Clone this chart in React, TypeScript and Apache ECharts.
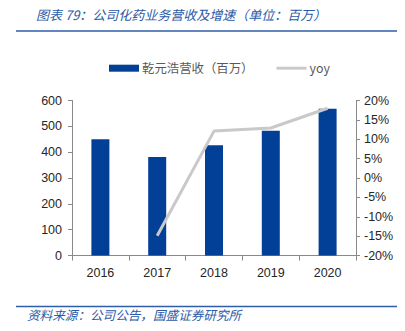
import React, { useEffect, useRef } from "react";
import * as echarts from "echarts";

const categories = ["2016", "2017", "2018", "2019", "2020"];
const revenue = [450, 381, 427, 483, 568];
const yoy: (number | null)[] = [null, -14.9, 12.1, 12.9, 18.0];
const titleText = "图表 79：公司化药业务营收及增速（单位：百万）";
const sourceText = "资料来源：公司公告，国盛证券研究所";

export default function App() {
  const ref = useRef<HTMLDivElement>(null);
  useEffect(() => {
    const chart = echarts.init(ref.current!, null, { renderer: "svg" });
    const axisColor = "#898989";
    const labelColor = "#262626";
    const font = "Liberation Sans";
    chart.setOption({
      animation: false,
      backgroundColor: "#fff",
      textStyle: { fontFamily: font },
      graphic: [
        {
          type: "text",
          left: 36,
          top: 8,
          style: {
            text: titleText,
            fill: "#2a5aa8",
            font: "italic 13px 'Noto Sans CJK SC'",
          },
        },
        {
          type: "line",
          shape: { x1: 16, y1: 31, x2: 401, y2: 31 },
          style: { stroke: "#2f5ea8", lineWidth: 1.5 },
        },
        {
          type: "line",
          shape: { x1: 16, y1: 306.5, x2: 401, y2: 306.5 },
          style: { stroke: "#2f5ea8", lineWidth: 1.5 },
        },
        {
          type: "text",
          left: 27,
          top: 308,
          style: {
            text: sourceText,
            fill: "#2a5aa8",
            font: "italic 12.6px 'Noto Sans CJK SC'",
          },
        },
      ],
      legend: {
        left: 109,
        top: 62,
        padding: 0,
        itemGap: 23,
        itemWidth: 30,
        itemHeight: 7,
        textStyle: { color: "#595959", fontSize: 12.4, fontFamily: "Noto Sans CJK SC", padding: [0, 0, 0, -2] },
        data: [
          { name: "乾元浩营收（百万）", icon: "rect" },
          {
            name: "yoy",
            icon: "path://M0,0M0,7M0,2L31,2L31,5L0,5Z",
            itemStyle: { color: "#C9C9C9" },
          },
        ],
      },
      grid: { left: 72, right: 49, top: 100.5, bottom: 75.5 },
      xAxis: {
        type: "category",
        data: categories,
        axisLine: { lineStyle: { color: axisColor } },
        axisTick: { show: true, length: 5, lineStyle: { color: axisColor } },
        axisLabel: { color: labelColor, fontSize: 12.5, margin: 11, fontFamily: font },
      },
      yAxis: [
        {
          type: "value",
          min: 0,
          max: 600,
          interval: 100,
          splitLine: { show: false },
          axisLine: { show: true, lineStyle: { color: axisColor } },
          axisTick: { show: true, length: 4, lineStyle: { color: axisColor } },
          axisLabel: { color: labelColor, fontSize: 12.5, margin: 10, fontFamily: font },
        },
        {
          type: "value",
          min: -20,
          max: 20,
          interval: 5,
          splitLine: { show: false },
          axisLine: { show: true, lineStyle: { color: axisColor } },
          axisTick: { show: true, length: 4, lineStyle: { color: axisColor } },
          axisLabel: {
            color: labelColor,
            fontSize: 12.5,
            margin: 8,
            fontFamily: font,
            formatter: "{value}%",
          },
        },
      ],
      series: [
        {
          name: "乾元浩营收（百万）",
          type: "bar",
          data: revenue,
          barWidth: 18,
          itemStyle: { color: "#023F96" },
        },
        {
          name: "yoy",
          type: "line",
          yAxisIndex: 1,
          data: yoy,
          symbol: "none",
          lineStyle: { color: "#C9C9C9", width: 3 },
          itemStyle: { color: "#C9C9C9" },
        },
      ],
    });
    return () => chart.dispose();
  }, []);
  return <div ref={ref} style={{ width: 405, height: 331, margin: -8 }} />;
}
